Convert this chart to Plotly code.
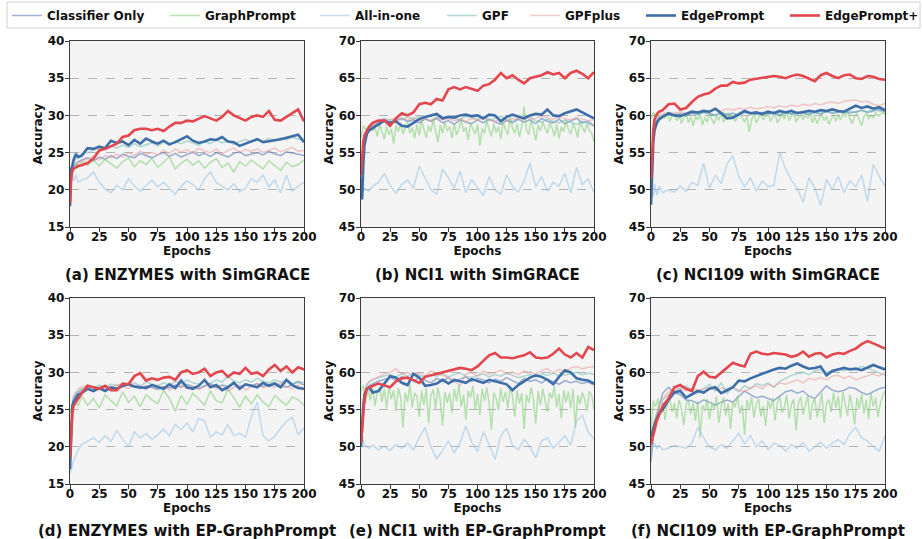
import plotly.graph_objects as go

W, H = 922, 539

EPOCHS = [0, 1, 2, 3, 5, 7, 10, 15, 20,
          25, 30, 35, 40, 45, 50, 55, 60, 65,
          70, 75, 80, 85, 90, 95, 100, 105, 110,
          115, 120, 125, 130, 135, 140, 145, 150, 155,
          160, 165, 170, 175, 180, 185, 190, 195, 200]
EPOCHS_DENSE = list(range(0, 201, 2))

METHODS = ["Classifier Only", "GraphPrompt", "All-in-one", "GPF", "GPFplus", "EdgePrompt", "EdgePrompt+"]
X_TICKS = [0, 25, 50, 75, 100, 125, 150, 175, 200]

# (a) ENZYMES with SimGRACE
a_cls = [18.5, 21.5, 22.5, 23.0, 23.5, 23.8, 24.0, 24.3, 23.9, 24.4, 24.1, 24.6, 24.2, 24.8, 24.5, 24.3, 24.9, 24.6, 24.3, 24.7, 25.0, 24.5, 24.9, 24.4, 24.8, 25.1, 24.6, 24.9, 24.5, 25.0, 24.7, 24.4, 24.9, 25.1, 24.6, 24.8, 25.0, 24.7, 25.2, 24.8, 24.6, 25.1, 24.9, 24.7, 24.6]
a_gp = [19.0, 22.0, 23.0, 22.8, 23.5, 23.0, 23.8, 23.3, 24.0, 23.2, 24.1, 23.5, 22.9, 23.8, 24.3, 23.1, 23.9, 23.4, 24.2, 23.0, 23.7, 24.4, 22.8, 23.6, 24.1, 23.3, 23.9, 22.9, 23.7, 24.2, 23.0, 23.6, 22.4, 23.8, 23.2, 24.0, 23.4, 22.8, 23.9, 23.3, 22.6, 23.7, 23.1, 23.4, 24.0]
a_aio = [19.0, 21.5, 22.0, 21.2, 22.0, 21.0, 21.3, 21.6, 22.4, 21.0, 20.1, 19.6, 20.6, 20.0, 21.5, 20.5, 19.8, 20.6, 21.3, 20.4, 21.0, 20.2, 19.4, 20.5, 21.2, 20.7, 20.0, 21.5, 22.4, 21.0, 20.5, 20.0, 20.8, 19.7, 20.2, 21.5, 21.0, 22.0, 20.4, 21.3, 19.6, 22.0, 19.8, 20.5, 21.0]
a_gpf = [18.5, 22.0, 23.0, 23.5, 24.2, 24.5, 24.8, 25.0, 25.3, 25.6, 25.4, 25.9, 25.6, 26.0, 25.7, 26.2, 25.8, 26.1, 26.3, 25.9, 26.4, 26.0, 26.5, 26.2, 26.6, 26.3, 26.0, 26.5, 26.2, 26.7, 26.3, 26.6, 26.1, 26.5, 26.8, 26.4, 26.7, 26.5, 26.9, 26.6, 27.0, 26.7, 27.1, 26.8, 26.9]
a_gpfp = [18.5, 21.5, 22.5, 23.0, 23.3, 23.6, 23.8, 24.2, 24.5, 24.0, 24.6, 24.3, 24.8, 24.4, 25.0, 24.6, 25.2, 24.8, 25.0, 24.7, 25.3, 24.9, 25.5, 25.1, 25.4, 24.9, 25.6, 25.2, 25.0, 25.5, 24.8, 25.3, 25.6, 25.0, 25.4, 25.2, 25.5, 25.0, 25.3, 25.6, 25.1, 25.4, 25.7, 25.2, 25.3]
a_ep = [17.8, 22.8, 23.2, 24.0, 24.8, 24.4, 24.6, 25.6, 25.5, 25.8, 25.6, 26.6, 26.3, 26.5, 26.0, 26.7, 26.2, 26.9, 26.5, 26.2, 26.6, 26.1, 26.4, 26.8, 27.2, 26.6, 26.3, 26.5, 26.8, 26.7, 27.1, 26.5, 26.4, 25.9, 26.2, 26.5, 26.8, 26.4, 26.5, 26.7, 26.8, 27.0, 27.2, 27.4, 26.4]
a_epp = [18.2, 21.5, 22.5, 22.8, 23.0, 23.2, 23.3, 23.6, 24.2, 25.3, 25.5, 25.8, 26.2, 27.1, 27.3, 28.0, 28.2, 28.2, 28.0, 28.2, 27.9, 28.5, 29.0, 29.0, 29.3, 29.2, 29.6, 29.9, 29.6, 29.3, 29.8, 30.6, 30.0, 29.6, 29.3, 29.8, 30.0, 29.8, 30.6, 29.4, 29.3, 29.8, 30.3, 30.8, 29.2]

# (b) NCI1 with SimGRACE
b_cls = [51.0, 54.5, 56.5, 57.3, 58.0, 58.3, 58.6, 59.0, 59.4, 59.0, 59.3, 59.6, 59.2, 59.4, 59.0, 59.5, 59.2, 59.6, 59.0, 59.3, 58.8, 59.4, 59.1, 58.9, 59.4, 59.0, 59.5, 59.2, 58.8, 59.3, 59.0, 59.5, 59.1, 59.4, 58.9, 59.6, 59.2, 59.0, 59.5, 58.9, 59.3, 59.6, 59.0, 59.2, 58.6]
b_gp = [57.0, 58.6, 58.2, 57.6, 58.8, 57.9, 58.4, 57.2, 58.9, 58.0,
        56.8, 58.5, 57.4, 58.2, 56.2, 58.7, 57.8, 59.0, 57.5, 58.3,
        59.2, 57.6, 58.4, 56.9, 58.8, 57.3, 59.4, 58.1, 57.0, 58.6,
        57.8, 59.5, 58.0, 56.4, 58.7, 57.6, 59.1, 57.9, 58.5, 56.9,
        58.9, 57.4, 58.2, 59.6, 57.8, 58.4, 56.7, 59.0, 58.1, 57.5,
        58.8, 55.9, 58.3, 57.6, 59.3, 58.0, 57.2, 58.9, 57.7, 58.5,
        56.8, 59.2, 58.1, 57.4, 59.8, 58.3, 57.6, 58.9, 57.1, 58.6,
        61.2, 58.0, 57.4, 59.4, 58.2, 56.6, 58.7, 57.9, 59.1, 58.4,
        57.6, 59.0, 58.3, 57.2, 58.8, 56.9, 58.5, 57.8, 59.3, 58.1,
        57.5, 58.9, 58.2, 57.0, 59.2, 58.4, 57.7, 58.9, 58.0, 57.6,
        56.4]
b_aio = [50.0, 50.5, 49.8, 50.2, 50.0, 49.8, 50.5, 51.0, 52.2, 50.6, 49.5, 50.7, 51.3, 50.2, 53.2, 51.5, 50.0, 49.4, 52.8, 51.6, 50.2, 52.5, 49.6, 51.4, 50.3, 49.2, 51.8, 50.0, 49.4, 52.0, 50.5, 49.7, 51.2, 53.6, 50.4, 51.8, 49.8, 51.0, 50.5, 52.2, 49.6, 53.0, 50.7, 51.5, 49.6]
b_gpf = [51.5, 55.0, 56.8, 57.5, 58.2, 58.5, 58.9, 59.3, 59.6, 59.3, 59.7, 59.4, 59.8, 59.5, 59.9, 59.6, 59.3, 59.8, 59.5, 59.9, 59.6, 59.4, 59.9, 59.7, 59.5, 59.8, 59.3, 59.6, 59.9, 59.5, 59.2, 59.7, 59.5, 59.8, 59.3, 59.1, 59.5, 59.2, 59.0, 59.4, 59.1, 58.8, 59.2, 58.9, 58.6]
b_gpfp = [51.0, 54.8, 56.5, 57.4, 58.1, 58.4, 58.7, 59.1, 59.3, 59.5, 59.2, 59.6, 59.4, 59.7, 59.3, 59.6, 59.2, 59.7, 59.4, 59.6, 59.3, 59.5, 59.2, 59.6, 59.3, 59.7, 59.4, 59.2, 59.5, 59.3, 59.6, 59.4, 59.8, 59.5, 59.6, 59.9, 59.7, 59.5, 59.8, 59.6, 59.4, 59.7, 59.5, 59.3, 59.4]
b_ep = [51.5, 48.7, 53.5, 56.0, 57.5, 58.0, 58.3, 58.8, 59.3, 59.0, 59.2, 58.6, 58.5, 59.0, 59.5, 59.8, 60.0, 60.2, 59.6, 59.8, 59.7, 60.0, 60.1, 59.9, 60.0, 59.6, 60.1, 60.0, 59.2, 59.8, 60.1, 59.9, 59.6, 60.0, 60.2, 60.1, 60.8, 60.0, 59.9, 60.3, 60.6, 60.8, 60.4, 60.0, 59.6]
b_epp = [52.0, 55.0, 56.5, 57.3, 58.0, 58.5, 59.0, 59.3, 59.3, 58.6, 59.6, 60.3, 60.0, 60.4, 61.5, 61.7, 61.5, 62.2, 62.0, 63.5, 63.8, 63.5, 63.8, 63.5, 63.3, 64.0, 64.2, 64.8, 65.7, 65.0, 65.4, 64.8, 64.3, 65.0, 65.2, 65.4, 65.8, 65.5, 65.7, 65.0, 65.7, 66.0, 65.6, 65.0, 65.8]

# (c) NCI109 with SimGRACE
c_cls = [48.5, 54.0, 57.0, 58.3, 59.3, 59.6, 59.9, 60.1, 60.0, 60.2, 59.9, 60.3, 60.1, 60.4, 60.2, 60.0, 60.3, 60.1, 60.3, 60.0, 60.4, 60.2, 60.1, 60.4, 60.2, 60.3, 60.0, 60.4, 60.2, 60.5, 60.3, 60.1, 60.4, 60.2, 60.5, 60.3, 60.4, 60.6, 60.3, 60.5, 60.7, 60.4, 60.6, 60.8, 60.5]
c_gp = [59.5, 60.4, 59.8, 60.2, 59.4, 60.1, 59.6, 60.3, 59.2, 59.9,
        60.2, 59.3, 60.0, 58.9, 59.7, 60.3, 59.0, 59.8, 58.6, 59.9,
        59.4, 60.2, 58.7, 59.8, 59.1, 60.1, 59.5, 58.8, 60.0, 59.3,
        60.4, 59.1, 59.8, 60.3, 59.5, 60.0, 59.2, 59.9, 60.4, 59.6,
        59.1, 59.9, 57.8, 59.4, 60.2, 59.0, 59.7, 60.3, 59.4, 59.9,
        60.5, 59.2, 59.8, 60.3, 59.0, 59.7, 60.2, 59.5, 60.6, 59.3,
        59.9, 60.4, 59.1, 59.8, 60.1, 59.4, 60.0, 59.6, 60.4, 59.0,
        59.8, 58.9, 59.6, 60.2, 59.3, 59.9, 58.8, 59.5, 60.1, 59.2,
        60.1, 59.4, 60.3, 59.8, 60.5, 59.6, 58.9, 59.9, 60.2, 59.4,
        58.6, 59.8, 60.3, 59.5, 60.0, 59.7, 60.4, 59.9, 60.2, 60.4,
        60.1]
c_aio = [48.5, 51.2, 49.0, 50.8, 49.3, 50.5, 49.6, 50.0, 49.7, 50.5, 49.8, 51.0, 50.6, 53.6, 50.2, 52.0, 50.8, 53.5, 54.6, 51.8, 50.4, 51.6, 49.8, 51.2, 50.4, 50.6, 55.0, 52.8, 51.3, 50.2, 48.3, 51.6, 50.3, 47.9, 51.4, 50.0, 51.8, 49.6, 51.2, 50.4, 52.0, 48.4, 53.4, 51.8, 50.5]
c_gpf = [48.5, 54.5, 57.5, 58.8, 59.5, 59.8, 60.0, 60.2, 60.1, 60.3, 60.0, 60.4, 60.2, 60.5, 60.3, 60.1, 60.4, 60.2, 60.3, 60.1, 60.5, 60.2, 60.4, 60.1, 60.3, 60.5, 60.2, 60.4, 60.1, 60.3, 60.5, 60.2, 60.4, 60.3, 60.6, 60.4, 60.5, 60.3, 60.6, 60.4, 60.7, 60.5, 60.8, 60.6, 60.5]
c_gpfp = [49.0, 55.0, 58.0, 59.2, 59.8, 60.0, 60.2, 60.4, 60.3, 60.5, 60.3, 60.6, 60.4, 60.7, 60.5, 60.8, 60.6, 60.9, 60.7, 61.0, 60.8, 61.1, 60.9, 61.0, 61.2, 61.0, 61.3, 61.1, 61.4, 61.2, 61.5, 61.3, 61.6, 61.4, 61.7, 61.8, 61.6, 61.9, 62.0, 62.1, 61.8, 61.9, 61.5, 61.3, 61.6]
c_ep = [48.0, 53.0, 56.5, 58.0, 59.0, 59.5, 59.8, 60.3, 60.0, 59.9, 60.2, 60.5, 60.4, 60.6, 60.5, 60.9, 60.3, 59.6, 59.7, 60.2, 60.6, 60.3, 60.4, 60.2, 60.5, 60.3, 60.6, 60.4, 60.6, 60.3, 60.4, 60.6, 60.5, 60.7, 60.6, 60.8, 60.6, 60.5, 60.9, 61.3, 61.0, 61.2, 60.9, 61.1, 60.7]
c_epp = [51.5, 55.0, 58.0, 59.5, 60.2, 60.5, 60.7, 61.5, 61.6, 60.8, 61.0, 61.8, 62.5, 62.8, 63.0, 63.6, 64.0, 64.0, 64.5, 64.3, 64.4, 64.8, 64.9, 65.0, 65.2, 65.3, 65.2, 65.0, 65.3, 65.5, 65.3, 64.9, 64.6, 65.4, 65.7, 65.3, 65.0, 65.4, 65.5, 65.0, 64.9, 65.3, 65.2, 64.9, 64.8]

# (d) ENZYMES with EP-GraphPrompt
d_cls = [18.0, 23.0, 25.5, 26.3, 27.0, 27.3, 27.6, 27.8, 27.5, 27.9, 27.7, 28.0, 27.8, 28.1, 28.3, 28.0, 27.8, 28.2, 28.0, 27.7, 28.1, 27.9, 28.3, 28.0, 28.4, 28.1, 27.8, 28.2, 28.5, 28.0, 28.3, 28.1, 28.6, 28.0, 28.4, 28.2, 28.5, 28.1, 28.3, 28.6, 28.2, 28.0, 28.4, 28.7, 28.3]
d_gp = [24.5, 25.0, 25.8, 25.3, 26.0, 25.5, 26.8, 25.6, 26.5, 25.2, 27.0, 26.2, 25.5, 27.4, 26.0, 26.8, 25.4, 27.0, 26.3, 25.8, 27.6, 26.5, 24.8, 26.9, 25.7, 27.2, 26.4, 25.6, 27.5, 26.2, 25.9, 27.8, 26.6, 25.3, 26.8, 25.8, 27.0, 26.0, 25.4, 26.9, 26.2, 25.6, 26.7, 26.3, 25.6]
d_aio = [16.5, 16.8, 17.5, 18.2, 18.8, 19.6, 20.3, 20.8, 21.2, 20.6, 21.5, 20.7, 22.2, 21.0, 20.0, 22.0, 21.2, 21.8, 21.0, 21.6, 22.4, 21.5, 23.0, 22.3, 23.2, 22.0, 23.8, 23.5, 21.3, 22.0, 21.6, 23.0, 21.5, 21.8, 21.3, 24.0, 26.0, 21.5, 20.8, 21.4, 22.5, 23.4, 24.0, 21.6, 22.6]
d_gpf = [18.0, 23.5, 25.8, 26.5, 27.2, 27.5, 27.8, 28.1, 27.9, 28.3, 28.0, 28.4, 28.2, 28.5, 28.3, 28.6, 28.2, 28.7, 28.4, 28.2, 28.6, 28.3, 28.8, 28.5, 29.0, 28.6, 28.4, 28.8, 28.5, 29.0, 28.7, 29.5, 28.8, 28.6, 29.0, 28.7, 29.2, 28.8, 28.6, 29.0, 28.7, 28.9, 28.5, 28.8, 28.6]
d_gpfp = [18.5, 24.0, 26.0, 26.8, 27.4, 27.8, 28.0, 28.3, 28.0, 27.8, 28.2, 27.9, 28.4, 28.1, 27.8, 28.3, 28.0, 27.7, 28.2, 27.9, 28.1, 27.6, 28.0, 28.3, 27.8, 28.1, 27.7, 28.0, 28.4, 27.8, 28.2, 27.5, 28.0, 28.3, 27.6, 28.1, 28.5, 27.9, 28.2, 28.0, 28.6, 28.1, 27.8, 28.3, 27.6]
d_ep = [17.0, 22.0, 25.5, 26.0, 26.6, 27.0, 27.2, 27.8, 27.5, 27.9, 27.5, 28.0, 27.8, 28.2, 28.4, 28.1, 28.0, 27.9, 28.3, 28.0, 27.8, 28.4, 27.9, 28.9, 28.0, 27.8, 28.2, 29.0, 28.0, 28.3, 27.6, 28.0, 28.6, 27.8, 28.4, 28.2, 28.0, 28.6, 28.2, 28.5, 28.0, 29.0, 28.3, 27.9, 27.8]
d_epp = [18.5, 22.0, 24.5, 25.5, 26.0, 26.5, 27.2, 28.2, 28.0, 27.8, 28.2, 27.6, 27.6, 28.5, 28.4, 29.5, 29.9, 28.9, 29.2, 29.0, 29.3, 29.4, 29.0, 30.0, 30.3, 29.8, 30.0, 30.5, 29.5, 30.0, 30.2, 29.4, 30.0, 29.8, 30.6, 29.8, 30.0, 29.5, 30.4, 31.0, 30.2, 30.8, 30.0, 30.7, 30.4]

# (e) NCI1 with EP-GraphPrompt
e_cls = [50.5, 53.5, 55.5, 56.8, 57.8, 58.2, 58.5, 58.8, 59.0, 59.3, 59.0, 59.4, 59.2, 58.9, 59.3, 59.0, 58.6, 59.2, 58.9, 59.3, 58.7, 59.1, 59.4, 58.8, 59.2, 59.0, 58.6, 59.1, 58.8, 59.3, 58.9, 58.5, 59.2, 58.8, 59.0, 58.6, 59.1, 58.7, 58.4, 58.9, 58.6, 58.8, 58.5, 58.7, 58.3]
e_gp = [57.5, 58.3, 55.8, 57.9, 56.2, 58.1, 55.5, 57.4, 58.0, 56.0,
        57.8, 55.2, 58.2, 56.4, 57.6, 54.8, 57.9, 56.7, 52.6, 57.3,
        56.0, 58.4, 55.3, 57.2, 56.8, 54.0, 57.6, 55.6, 57.9, 53.2,
        56.9, 57.7, 55.1, 58.0, 56.3, 52.8, 57.4, 55.9, 57.2, 54.6,
        57.8, 56.1, 58.3, 55.4, 57.0, 53.6, 57.5, 56.6, 58.2, 55.0,
        57.1, 54.3, 57.8, 56.2, 58.0, 55.7, 52.3, 57.3, 56.5, 54.9,
        57.9, 56.0, 57.4, 55.2, 58.1, 56.8, 54.1, 57.6, 55.8, 57.2,
        52.4, 57.0, 55.9, 58.0, 56.4, 53.1, 57.5, 55.6, 57.8, 56.2,
        54.7, 57.3, 56.5, 58.2, 55.3, 57.1, 53.8, 57.6, 56.0, 57.4,
        55.2, 57.8, 52.6, 56.9, 55.7, 57.3, 56.4, 54.8, 57.5, 56.9,
        55.0]
e_aio = [50.2, 51.5, 50.8, 50.2, 50.0, 49.8, 50.2, 49.6, 50.1, 49.5, 50.3, 49.8, 50.5, 49.6, 51.2, 52.6, 50.0, 48.4, 49.5, 50.8, 49.2, 50.5, 52.8, 50.6, 49.4, 52.0, 50.3, 48.3, 51.5, 52.5, 50.2, 49.6, 51.0, 50.0, 48.5, 50.8, 51.2, 49.8, 50.6, 51.5, 50.2, 53.5, 54.2, 52.0, 51.0]
e_gpf = [50.5, 54.0, 56.0, 57.2, 58.3, 58.7, 59.0, 59.3, 59.5, 59.7, 59.4, 59.8, 59.5, 59.9, 59.6, 59.3, 59.7, 59.5, 59.8, 59.4, 59.7, 59.9, 59.5, 59.3, 59.6, 59.8, 59.4, 59.7, 59.5, 59.9, 59.6, 59.3, 59.5, 59.7, 59.4, 59.8, 59.6, 59.9, 59.5, 59.7, 59.8, 60.0, 59.7, 59.9, 59.7]
e_gpfp = [50.5, 54.0, 56.2, 57.3, 58.4, 58.8, 59.0, 59.4, 59.8, 60.0, 60.5, 59.8, 60.0, 59.6, 59.9, 59.5, 60.2, 59.8, 59.6, 59.3, 59.0, 58.2, 59.8, 60.0, 59.5, 60.2, 59.8, 60.0, 60.3, 59.8, 60.0, 59.7, 60.2, 60.0, 59.8, 60.3, 60.5, 59.9, 60.4, 60.1, 60.6, 60.8, 60.5, 60.7, 60.8]
e_ep = [50.0, 53.0, 55.5, 57.0, 57.8, 58.0, 57.3, 57.5, 58.5, 59.5, 59.3, 58.6, 58.3, 59.8, 59.3, 58.2, 58.3, 58.5, 59.0, 58.5, 59.0, 58.8, 58.6, 59.1, 58.8, 58.6, 59.0, 58.8, 58.6, 58.4, 57.6, 58.3, 58.8, 59.3, 59.6, 59.4, 59.0, 58.4, 59.4, 60.3, 60.0, 59.2, 59.0, 58.9, 58.5]
e_epp = [50.5, 53.0, 55.0, 56.5, 57.8, 58.0, 58.2, 58.5, 58.3, 58.0, 58.8, 59.2, 59.3, 59.0, 58.6, 59.4, 59.6, 59.8, 60.0, 60.2, 60.4, 60.6, 60.5, 60.3, 60.8, 61.5, 62.3, 62.6, 62.0, 62.0, 61.9, 62.1, 62.3, 62.7, 62.0, 61.9, 62.0, 62.5, 63.2, 62.4, 62.0, 62.6, 62.0, 63.4, 63.0]

# (f) NCI109 with EP-GraphPrompt
f_cls = [48.0, 50.0, 51.5, 52.5, 54.0, 55.5, 57.2, 58.0, 57.3, 57.0, 56.3, 56.2, 55.8, 56.3, 56.0, 55.6, 56.0, 56.3, 56.0, 56.8, 57.5, 57.0, 56.6, 56.8, 56.5, 56.2, 56.8, 57.4, 57.6, 57.2, 57.5, 56.8, 56.5, 57.4, 58.2, 57.6, 57.4, 57.6, 58.0, 57.8, 57.3, 57.0, 57.4, 57.8, 58.0]
f_gp = [52.0, 56.2, 55.4, 56.5, 54.3, 56.0, 53.6, 55.8, 56.4, 54.7,
        55.9, 53.8, 56.3, 55.1, 52.9, 55.7, 56.2, 54.4, 55.9, 53.5,
        56.1, 51.2, 55.6, 54.8, 56.4, 53.7, 55.9, 55.0, 56.8, 53.2,
        55.4, 56.6, 54.2, 55.8, 52.4, 56.1, 55.3, 56.9, 54.5, 55.6,
        51.6, 56.3, 55.0, 56.7, 53.9, 55.8, 56.4, 54.1, 55.5, 52.8,
        56.2, 55.1, 56.6, 53.5, 55.9, 56.8, 54.6, 55.3, 57.0, 53.8,
        55.7, 56.4, 52.2, 55.9, 56.7, 54.3, 55.6, 56.9, 53.6, 55.8,
        56.5, 54.0, 55.4, 57.2, 53.2, 55.9, 56.3, 54.7, 57.3, 55.2,
        56.8, 53.9, 57.4, 55.6, 54.2, 57.0, 55.5, 53.0, 56.6, 55.1,
        57.1, 54.5, 56.3, 53.7, 57.2, 55.4, 56.6, 54.0, 55.8, 56.9,
        57.5]
f_aio = [48.5, 50.8, 50.0, 50.5, 49.8, 50.2, 49.6, 49.8, 50.2, 50.0, 49.8, 50.5, 52.6, 51.2, 50.0, 49.6, 50.3, 49.8, 50.8, 51.8, 50.4, 51.5, 50.0, 50.8, 49.6, 50.5, 50.2, 49.4, 50.3, 49.8, 50.6, 49.4, 50.0, 50.6, 49.8, 50.5, 51.0, 50.3, 51.8, 52.6, 51.2, 50.8, 50.0, 49.4, 51.5]
f_gpf = [49.0, 51.0, 52.5, 53.5, 54.5, 55.5, 56.3, 57.0, 57.5, 57.8, 58.2, 57.6, 57.2, 57.8, 58.4, 57.5, 58.6, 57.2, 58.0, 57.4, 58.2, 57.8, 58.5, 58.2, 58.6, 58.0, 58.8, 59.2, 59.6, 59.8, 60.0, 59.7, 60.2, 60.4, 60.0, 60.3, 60.5, 60.2, 60.6, 60.4, 60.8, 60.6, 60.3, 60.0, 59.6]
f_gpfp = [49.5, 51.2, 52.5, 53.5, 54.6, 55.6, 56.5, 57.4, 58.0, 57.8, 57.5, 57.9, 57.6, 57.8, 58.0, 57.6, 57.9, 57.7, 58.0, 57.6, 57.4, 57.9, 58.2, 57.8, 58.4, 58.1, 58.6, 58.4, 58.7, 59.0, 58.6, 59.2, 59.0, 59.3, 59.0, 59.5, 59.6, 59.2, 59.5, 59.0, 59.3, 59.6, 59.8, 59.5, 60.0]
f_ep = [51.3, 52.0, 52.5, 53.0, 53.8, 54.5, 55.0, 56.3, 57.3, 57.5, 56.6, 57.0, 57.5, 57.3, 57.8, 58.0, 57.2, 57.6, 58.0, 58.9, 58.8, 59.2, 59.5, 59.8, 60.2, 60.4, 60.6, 60.5, 60.9, 61.2, 60.8, 60.5, 60.6, 60.8, 59.6, 60.2, 60.4, 60.6, 60.4, 60.5, 60.3, 60.7, 61.0, 60.7, 60.4]
f_epp = [50.3, 51.0, 51.8, 52.5, 53.5, 54.3, 55.5, 56.5, 58.0, 58.3, 57.8, 57.5, 59.5, 60.1, 59.4, 59.3, 60.0, 60.6, 61.3, 61.0, 60.8, 62.5, 62.8, 62.5, 62.4, 62.6, 62.5, 62.4, 62.1, 62.3, 62.8, 62.1, 62.5, 62.6, 62.0, 62.4, 62.6, 62.5, 62.9, 63.2, 63.8, 64.2, 63.9, 63.5, 63.2]

PANEL_TITLES = ["(a) ENZYMES with SimGRACE", "(b) NCI1 with SimGRACE", "(c) NCI109 with SimGRACE",
                "(d) ENZYMES with EP-GraphPrompt", "(e) NCI1 with EP-GraphPrompt", "(f) NCI109 with EP-GraphPrompt"]
Y_RANGES = [[15, 40], [45, 70], [45, 70], [15, 40], [45, 70], [45, 70]]
PANEL_SERIES = [
    [a_cls, a_gp, a_aio, a_gpf, a_gpfp, a_ep, a_epp],
    [b_cls, b_gp, b_aio, b_gpf, b_gpfp, b_ep, b_epp],
    [c_cls, c_gp, c_aio, c_gpf, c_gpfp, c_ep, c_epp],
    [d_cls, d_gp, d_aio, d_gpf, d_gpfp, d_ep, d_epp],
    [e_cls, e_gp, e_aio, e_gpf, e_gpfp, e_ep, e_epp],
    [f_cls, f_gp, f_aio, f_gpf, f_gpfp, f_ep, f_epp],
]

COLORS = ["rgba(76,114,176,0.55)", "rgba(125,205,115,0.55)", "rgba(150,195,232,0.55)",
          "rgba(115,190,180,0.55)", "rgba(240,150,150,0.5)", "#3e6ea8", "#e4464d"]
WIDTHS = [1.5, 1.5, 1.5, 1.5, 1.5, 2.6, 2.6]

FONT = "DejaVu Sans"
COLS_PX = [(70, 304), (361, 594), (651, 885)]
ROWS_PX = [(41, 227), (298, 484)]
FRAME = "#3c3c3c"

fig = go.Figure()
for i in range(6):
    ax = "" if i == 0 else str(i + 1)
    for k, name in enumerate(METHODS):
        ys = PANEL_SERIES[i][k]
        xs = EPOCHS_DENSE if len(ys) == len(EPOCHS_DENSE) else EPOCHS
        fig.add_trace(go.Scatter(
            x=xs, y=ys, mode="lines", name=name,
            line=dict(color=COLORS[k], width=WIDTHS[k]),
            xaxis="x" + ax, yaxis="y" + ax,
            showlegend=(i == 0), legend=("legend" if k == 0 else f"legend{k+1}"),
            hoverinfo="skip"))

    r, c = divmod(i, 3)
    x0, x1 = COLS_PX[c]
    y0, y1 = ROWS_PX[r]
    tick_font = dict(family=FONT, size=12, color="#111", weight="bold")
    title_font = dict(family=FONT, size=12, color="#111", weight="bold")
    fig.layout["xaxis" + ax] = dict(
        domain=[x0 / W, x1 / W], anchor="y" + ax, range=[0, 200], automargin=False,
        tickvals=X_TICKS, ticks="outside", ticklen=4, tickwidth=1.2, tickcolor=FRAME,
        ticklabelstandoff=-6,
        showline=True, mirror=True, linecolor=FRAME, linewidth=1.3,
        showgrid=False, zeroline=False, tickfont=tick_font,
        title=dict(text="Epochs", font=title_font, standoff=3))
    fig.layout["yaxis" + ax] = dict(
        domain=[1 - y1 / H, 1 - y0 / H], anchor="x" + ax, range=Y_RANGES[i], automargin=False,
        tickvals=list(range(Y_RANGES[i][0], Y_RANGES[i][1] + 1, 5)),
        ticks="outside", ticklen=4, tickwidth=1.2, tickcolor=FRAME,
        ticklabelstandoff=-2,
        showline=True, mirror=True, linecolor=FRAME, linewidth=1.3,
        showgrid=True, gridcolor="#b4b4b4", gridwidth=0.8, griddash="dash",
        zeroline=False, tickfont=tick_font,
        title=dict(text="Accuracy", font=title_font, standoff=2))
    cap_y = 275 if r == 0 else 531
    fig.add_annotation(text=PANEL_TITLES[i], xref="paper", yref="paper",
                       x=(x0 + x1) / 2 / W, y=1 - cap_y / H, xanchor="center", yanchor="middle",
                       showarrow=False, font=dict(family=FONT, size=15, color="#111", weight="bold"))

# legend: one legend per entry, placed along a single framed row
LEG_STARTS = [12, 170, 320, 447, 530, 646, 790]
for k in range(7):
    key = "legend" if k == 0 else f"legend{k+1}"
    fig.layout[key] = dict(x=(LEG_STARTS[k] - 5) / W, xanchor="left", y=1 - 1 / H, yanchor="top",
                           xref="container", yref="container",
                           orientation="h", bgcolor="rgba(0,0,0,0)", borderwidth=0,
                           font=dict(family=FONT, size=12, color="#111", weight="bold"))

fig.add_shape(type="rect", xref="paper", yref="paper", x0=7 / W, x1=920 / W,
              y0=1 - 28 / H, y1=1 - 2 / H, line=dict(color="#d0d0d0", width=1),
              fillcolor="white", layer="below")

fig.update_layout(width=W, height=H, margin=dict(l=0, r=0, t=0, b=0, autoexpand=False),
                  paper_bgcolor="white", plot_bgcolor="#f4f4f4",
                  font=dict(family=FONT, size=12, color="#111"))

fig.write_html("out.html", config={"displayModeBar": False},
               post_script="document.body.style.margin='0px';")
